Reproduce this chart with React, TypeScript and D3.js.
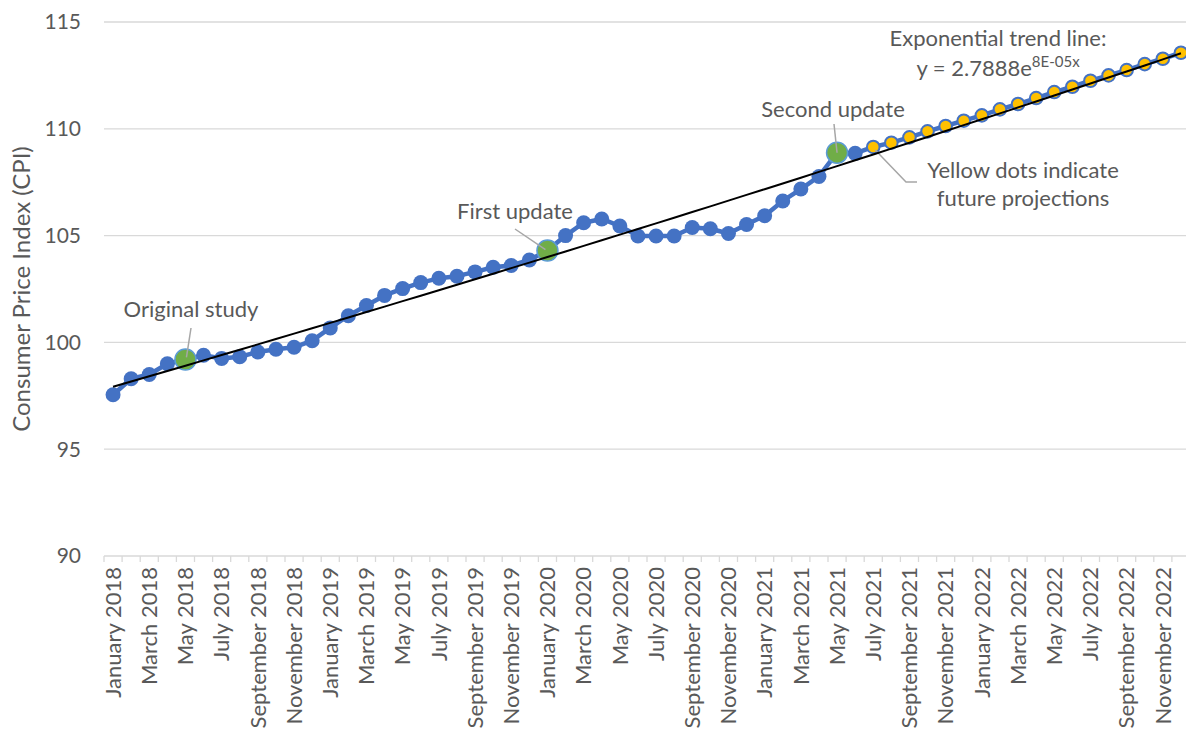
import React from 'react';
import * as d3 from 'd3';

// CPI by month, January 2018 .. December 2022
const monthNames = ['January', 'February', 'March', 'April', 'May', 'June', 'July', 'August', 'September', 'October', 'November', 'December'];
const years = [2018, 2019, 2020, 2021, 2022];
const cpi2018 = [97.55, 98.3, 98.5, 99.0, 99.2, 99.4, 99.25, 99.33, 99.55, 99.68, 99.77, 100.08];
const cpi2019 = [100.68, 101.25, 101.73, 102.2, 102.52, 102.8, 103.0, 103.1, 103.3, 103.52, 103.6, 103.86];
const cpi2020 = [104.3, 105.0, 105.6, 105.78, 105.45, 104.98, 104.98, 104.98, 105.38, 105.32, 105.1, 105.52];
const cpi2021 = [105.93, 106.62, 107.18, 107.77, 108.88, 108.85, 109.15, 109.35, 109.6, 109.88, 110.13, 110.38];
const cpi2022 = [110.63, 110.91, 111.16, 111.44, 111.72, 111.97, 112.25, 112.5, 112.75, 113.03, 113.28, 113.56];
const yTicks = [90, 95, 100, 105, 110, 115];
const milestones = [
  { month: 'May 2018', label: 'Original study' },
  { month: 'January 2020', label: 'First update' },
  { month: 'May 2021', label: 'Second update' },
];
const firstProjection = 'July 2021';

const months = years.flatMap(y => monthNames.map(m => `${m} ${y}`));
const values = [...cpi2018, ...cpi2019, ...cpi2020, ...cpi2021, ...cpi2022];
const data = months.map((m, i) => ({ month: m, i, value: values[i] }));

const W = 1186;
const H = 731;
const left = 104;
const step = 18.1;
const top = 22;
const bottom = 556;

const FONT = 'Lato, "Open Sans", sans-serif';
const GREY = '#595959';
const BLUE = '#4472C4';

const App: React.FC = () => {
  const x = d3.scaleBand<string>()
    .domain(months)
    .range([left, left + step * months.length])
    .padding(0);
  const cx = (m: string) => (x(m) as number) + x.bandwidth() / 2;
  const y = d3.scaleLinear().domain([90, 115]).range([bottom, top]);

  // exponential trend: least squares on ln(value)
  const mx = d3.mean(data, d => d.i) as number;
  const my = d3.mean(data, d => Math.log(d.value)) as number;
  const b = d3.sum(data, d => (d.i - mx) * (Math.log(d.value) - my)) / d3.sum(data, d => (d.i - mx) ** 2);
  const a = my - b * mx;
  const trend = data.map(d => ({ i: d.i, v: Math.exp(a + b * d.i) }));
  const trendLine = d3.line<{ i: number; v: number }>()
    .x(d => cx(months[d.i]))
    .y(d => y(d.v));

  const line = d3.line<typeof data[0]>()
    .x(d => cx(d.month))
    .y(d => y(d.value));

  const projStart = months.indexOf(firstProjection);
  const ms = milestones.map(m => data[months.indexOf(m.month)]);
  const proj0 = data[projStart];

  return (
    <svg width={W} height={H} style={{ position: 'absolute', left: 0, top: 0, background: '#fff' }}>
      {/* grid */}
      {yTicks.map(t => (
        <g key={t}>
          <line x1={left} x2={W} y1={y(t)} y2={y(t)} stroke="#D9D9D9" strokeWidth={1.3} />
          <text x={81} y={y(t)} dy="0.35em" textAnchor="end" fontFamily={FONT} fontSize={21} fill={GREY}>{t}</text>
        </g>
      ))}
      {/* x axis ticks */}
      {d3.range(months.length + 1).map(k => (
        <line key={k} x1={left + step * k} x2={left + step * k} y1={bottom} y2={bottom + 6} stroke="#D9D9D9" strokeWidth={1.3} />
      ))}
      {months.map((m, i) => i % 2 === 0 && (
        <text key={m} transform={`translate(${cx(m)},${bottom + 11}) rotate(-90)`} dy="0.35em"
          textAnchor="end" fontFamily={FONT} fontSize={22} fill={GREY}>{m}</text>
      ))}
      <text transform={`translate(22,${(top + bottom) / 2}) rotate(-90)`} dy="0.35em" textAnchor="middle"
        fontFamily={FONT} fontSize={24} fill={GREY}>Consumer Price Index (CPI)</text>

      {/* series */}
      <path d={line(data) as string} fill="none" stroke={BLUE} strokeWidth={4.5} strokeLinejoin="round" />
      {data.map(d => d.i < projStart && (
        <circle key={d.month} cx={cx(d.month)} cy={y(d.value)} r={7.5} fill={BLUE} />
      ))}
      {data.map(d => d.i >= projStart && (
        <circle key={d.month} cx={cx(d.month)} cy={y(d.value)} r={6.3} fill="#FFC000" stroke={BLUE} strokeWidth={2} />
      ))}
      {ms.map(d => (
        <circle key={d.month} cx={cx(d.month)} cy={y(d.value)} r={10.5} fill="#70AD47" stroke="#5B9BD5" strokeWidth={1.5} />
      ))}

      {/* leader lines */}
      <line x1={191} y1={328} x2={cx(ms[0].month) + 1} y2={y(ms[0].value) - 2} stroke="#A6A6A6" strokeWidth={1.5} />
      <line x1={515} y1={229} x2={cx(ms[1].month) - 2} y2={y(ms[1].value) - 1} stroke="#A6A6A6" strokeWidth={1.5} />
      <line x1={834} y1={124} x2={cx(ms[2].month)} y2={y(ms[2].value)} stroke="#A6A6A6" strokeWidth={1.5} />
      <polyline points={`${cx(proj0.month) + 2},${y(proj0.value) + 3} 906,182 917,182`} fill="none" stroke="#A6A6A6" strokeWidth={1.5} />

      {/* trend */}
      <path d={trendLine(trend) as string} fill="none" stroke="#000" strokeWidth={2} />

      {/* annotations */}
      <g fontFamily={FONT} fontSize={22} fill={GREY} textAnchor="middle">
        <text x={191} y={317}>{milestones[0].label}</text>
        <text x={515} y={219}>{milestones[1].label}</text>
        <text x={833} y={117}>{milestones[2].label}</text>
        <text x={1023} y={178}>Yellow dots indicate</text>
        <text x={1023} y={206}>future projections</text>
        <text x={998} y={46}>Exponential trend line:</text>
        <text x={998} y={76}>y = 2.7888e<tspan fontSize={15} dy={-9}>8E-05x</tspan></text>
      </g>
    </svg>
  );
};

export default App;
